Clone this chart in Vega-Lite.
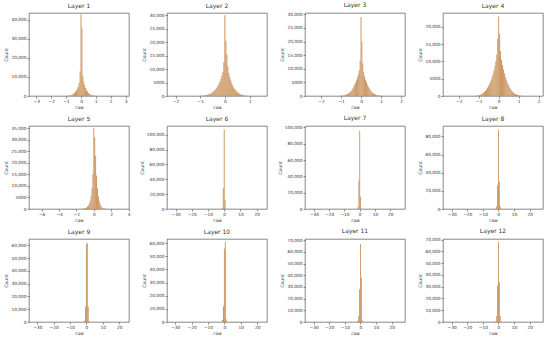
{
"$schema": "https://vega.github.io/schema/vega-lite/v6.json",
"autosize": "pad",
"padding": {"left": 3, "top": 2, "right": 0, "bottom": 0},
"background": "white",
"columns": 4,
"spacing": {"row": 30, "column": 38},
"bounds": "flush",
"data": {"values": [
{"l":1,"a":-1.085,"b":-1.023,"c":40},{"l":1,"a":-1.023,"b":-0.961,"c":60},{"l":1,"a":-0.961,"b":-0.899,"c":90},{"l":1,"a":-0.899,"b":-0.837,"c":140},{"l":1,"a":-0.837,"b":-0.775,"c":210},{"l":1,"a":-0.775,"b":-0.713,"c":300},{"l":1,"a":-0.713,"b":-0.651,"c":430},{"l":1,"a":-0.651,"b":-0.589,"c":620},{"l":1,"a":-0.589,"b":-0.527,"c":880},{"l":1,"a":-0.527,"b":-0.465,"c":1200},{"l":1,"a":-0.465,"b":-0.403,"c":1650},{"l":1,"a":-0.403,"b":-0.341,"c":2200},{"l":1,"a":-0.341,"b":-0.279,"c":2900},{"l":1,"a":-0.279,"b":-0.217,"c":3800},{"l":1,"a":-0.217,"b":-0.155,"c":5000},{"l":1,"a":-0.155,"b":-0.093,"c":7000},{"l":1,"a":-0.093,"b":-0.031,"c":13000},{"l":1,"a":-0.031,"b":0.031,"c":43000},{"l":1,"a":0.031,"b":0.093,"c":36000},{"l":1,"a":0.093,"b":0.155,"c":10500},{"l":1,"a":0.155,"b":0.217,"c":7500},{"l":1,"a":0.217,"b":0.279,"c":5600},{"l":1,"a":0.279,"b":0.341,"c":4200},{"l":1,"a":0.341,"b":0.403,"c":3100},{"l":1,"a":0.403,"b":0.465,"c":2300},{"l":1,"a":0.465,"b":0.527,"c":1650},{"l":1,"a":0.527,"b":0.589,"c":1200},{"l":1,"a":0.589,"b":0.651,"c":850},{"l":1,"a":0.651,"b":0.713,"c":600},{"l":1,"a":0.713,"b":0.775,"c":420},{"l":1,"a":0.775,"b":0.837,"c":290},{"l":1,"a":0.837,"b":0.899,"c":190},{"l":1,"a":0.899,"b":0.961,"c":120},{"l":1,"a":0.961,"b":1.023,"c":75},{"l":1,"a":1.023,"b":1.085,"c":45},

{"l":2,"a":-1.14,"b":-1.1,"c":30},{"l":2,"a":-1.1,"b":-1.06,"c":45},{"l":2,"a":-1.06,"b":-1.02,"c":60},{"l":2,"a":-1.02,"b":-0.98,"c":80},{"l":2,"a":-0.98,"b":-0.94,"c":110},{"l":2,"a":-0.94,"b":-0.9,"c":140},{"l":2,"a":-0.9,"b":-0.86,"c":180},{"l":2,"a":-0.86,"b":-0.82,"c":230},{"l":2,"a":-0.82,"b":-0.78,"c":290},{"l":2,"a":-0.78,"b":-0.74,"c":370},{"l":2,"a":-0.74,"b":-0.7,"c":460},{"l":2,"a":-0.7,"b":-0.66,"c":570},{"l":2,"a":-0.66,"b":-0.62,"c":700},{"l":2,"a":-0.62,"b":-0.58,"c":860},{"l":2,"a":-0.58,"b":-0.54,"c":1050},{"l":2,"a":-0.54,"b":-0.5,"c":1280},{"l":2,"a":-0.5,"b":-0.46,"c":1550},{"l":2,"a":-0.46,"b":-0.42,"c":1870},{"l":2,"a":-0.42,"b":-0.38,"c":2250},{"l":2,"a":-0.38,"b":-0.34,"c":2700},{"l":2,"a":-0.34,"b":-0.3,"c":3200},{"l":2,"a":-0.3,"b":-0.26,"c":3800},{"l":2,"a":-0.26,"b":-0.22,"c":4500},{"l":2,"a":-0.22,"b":-0.18,"c":5300},{"l":2,"a":-0.18,"b":-0.14,"c":6300},{"l":2,"a":-0.14,"b":-0.1,"c":7500},{"l":2,"a":-0.1,"b":-0.06,"c":9000},{"l":2,"a":-0.06,"b":-0.02,"c":12500},{"l":2,"a":-0.02,"b":0.02,"c":30000},{"l":2,"a":0.02,"b":0.06,"c":20500},{"l":2,"a":0.06,"b":0.1,"c":15500},{"l":2,"a":0.1,"b":0.14,"c":11000},{"l":2,"a":0.14,"b":0.18,"c":8500},{"l":2,"a":0.18,"b":0.22,"c":7000},{"l":2,"a":0.22,"b":0.26,"c":5800},{"l":2,"a":0.26,"b":0.3,"c":4800},{"l":2,"a":0.3,"b":0.34,"c":3900},{"l":2,"a":0.34,"b":0.38,"c":3200},{"l":2,"a":0.38,"b":0.42,"c":2600},{"l":2,"a":0.42,"b":0.46,"c":2100},{"l":2,"a":0.46,"b":0.5,"c":1700},{"l":2,"a":0.5,"b":0.54,"c":1350},{"l":2,"a":0.54,"b":0.58,"c":1080},{"l":2,"a":0.58,"b":0.62,"c":850},{"l":2,"a":0.62,"b":0.66,"c":660},{"l":2,"a":0.66,"b":0.7,"c":510},{"l":2,"a":0.7,"b":0.74,"c":390},{"l":2,"a":0.74,"b":0.78,"c":300},{"l":2,"a":0.78,"b":0.82,"c":230},{"l":2,"a":0.82,"b":0.86,"c":170},{"l":2,"a":0.86,"b":0.9,"c":125},{"l":2,"a":0.9,"b":0.94,"c":90},{"l":2,"a":0.94,"b":0.98,"c":65},{"l":2,"a":0.98,"b":1.02,"c":45},{"l":2,"a":1.02,"b":1.06,"c":30},

{"l":3,"a":-1.0575,"b":-1.0125,"c":60},{"l":3,"a":-1.0125,"b":-0.9675,"c":90},{"l":3,"a":-0.9675,"b":-0.9225,"c":130},{"l":3,"a":-0.9225,"b":-0.8775,"c":180},{"l":3,"a":-0.8775,"b":-0.8325,"c":250},{"l":3,"a":-0.8325,"b":-0.7875,"c":330},{"l":3,"a":-0.7875,"b":-0.7425,"c":440},{"l":3,"a":-0.7425,"b":-0.6975,"c":580},{"l":3,"a":-0.6975,"b":-0.6525,"c":750},{"l":3,"a":-0.6525,"b":-0.6075,"c":950},{"l":3,"a":-0.6075,"b":-0.5625,"c":1200},{"l":3,"a":-0.5625,"b":-0.5175,"c":1500},{"l":3,"a":-0.5175,"b":-0.4725,"c":1850},{"l":3,"a":-0.4725,"b":-0.4275,"c":2300},{"l":3,"a":-0.4275,"b":-0.3825,"c":2800},{"l":3,"a":-0.3825,"b":-0.3375,"c":3400},{"l":3,"a":-0.3375,"b":-0.2925,"c":4100},{"l":3,"a":-0.2925,"b":-0.2475,"c":4900},{"l":3,"a":-0.2475,"b":-0.2025,"c":5800},{"l":3,"a":-0.2025,"b":-0.1575,"c":6800},{"l":3,"a":-0.1575,"b":-0.1125,"c":8000},{"l":3,"a":-0.1125,"b":-0.0675,"c":9500},{"l":3,"a":-0.0675,"b":-0.0225,"c":13000},{"l":3,"a":-0.0225,"b":0.0225,"c":29000},{"l":3,"a":0.0225,"b":0.0675,"c":20000},{"l":3,"a":0.0675,"b":0.1125,"c":12000},{"l":3,"a":0.1125,"b":0.1575,"c":8800},{"l":3,"a":0.1575,"b":0.2025,"c":7300},{"l":3,"a":0.2025,"b":0.2475,"c":6100},{"l":3,"a":0.2475,"b":0.2925,"c":5100},{"l":3,"a":0.2925,"b":0.3375,"c":4200},{"l":3,"a":0.3375,"b":0.3825,"c":3500},{"l":3,"a":0.3825,"b":0.4275,"c":2900},{"l":3,"a":0.4275,"b":0.4725,"c":2350},{"l":3,"a":0.4725,"b":0.5175,"c":1900},{"l":3,"a":0.5175,"b":0.5625,"c":1500},{"l":3,"a":0.5625,"b":0.6075,"c":1200},{"l":3,"a":0.6075,"b":0.6525,"c":950},{"l":3,"a":0.6525,"b":0.6975,"c":740},{"l":3,"a":0.6975,"b":0.7425,"c":570},{"l":3,"a":0.7425,"b":0.7875,"c":430},{"l":3,"a":0.7875,"b":0.8325,"c":320},{"l":3,"a":0.8325,"b":0.8775,"c":240},{"l":3,"a":0.8775,"b":0.9225,"c":170},{"l":3,"a":0.9225,"b":0.9675,"c":120},{"l":3,"a":0.9675,"b":1.0125,"c":80},{"l":3,"a":1.0125,"b":1.0575,"c":50},

{"l":4,"a":-1.1515,"b":-1.1045,"c":80},{"l":4,"a":-1.1045,"b":-1.0575,"c":120},{"l":4,"a":-1.0575,"b":-1.0105,"c":180},{"l":4,"a":-1.0105,"b":-0.9635,"c":250},{"l":4,"a":-0.9635,"b":-0.9165,"c":340},{"l":4,"a":-0.9165,"b":-0.8695,"c":460},{"l":4,"a":-0.8695,"b":-0.8225,"c":600},{"l":4,"a":-0.8225,"b":-0.7755,"c":780},{"l":4,"a":-0.7755,"b":-0.7285,"c":1000},{"l":4,"a":-0.7285,"b":-0.6815,"c":1250},{"l":4,"a":-0.6815,"b":-0.6345,"c":1550},{"l":4,"a":-0.6345,"b":-0.5875,"c":1900},{"l":4,"a":-0.5875,"b":-0.5405,"c":2350},{"l":4,"a":-0.5405,"b":-0.4935,"c":2850},{"l":4,"a":-0.4935,"b":-0.4465,"c":3400},{"l":4,"a":-0.4465,"b":-0.3995,"c":4000},{"l":4,"a":-0.3995,"b":-0.3525,"c":4700},{"l":4,"a":-0.3525,"b":-0.3055,"c":5500},{"l":4,"a":-0.3055,"b":-0.2585,"c":6400},{"l":4,"a":-0.2585,"b":-0.2115,"c":7400},{"l":4,"a":-0.2115,"b":-0.1645,"c":8600},{"l":4,"a":-0.1645,"b":-0.1175,"c":10000},{"l":4,"a":-0.1175,"b":-0.0705,"c":12000},{"l":4,"a":-0.0705,"b":-0.0235,"c":16500},{"l":4,"a":-0.0235,"b":0.0235,"c":23000},{"l":4,"a":0.0235,"b":0.0705,"c":18000},{"l":4,"a":0.0705,"b":0.1175,"c":13000},{"l":4,"a":0.1175,"b":0.1645,"c":10500},{"l":4,"a":0.1645,"b":0.2115,"c":9000},{"l":4,"a":0.2115,"b":0.2585,"c":7700},{"l":4,"a":0.2585,"b":0.3055,"c":6600},{"l":4,"a":0.3055,"b":0.3525,"c":5600},{"l":4,"a":0.3525,"b":0.3995,"c":4800},{"l":4,"a":0.3995,"b":0.4465,"c":4000},{"l":4,"a":0.4465,"b":0.4935,"c":3400},{"l":4,"a":0.4935,"b":0.5405,"c":2800},{"l":4,"a":0.5405,"b":0.5875,"c":2300},{"l":4,"a":0.5875,"b":0.6345,"c":1850},{"l":4,"a":0.6345,"b":0.6815,"c":1500},{"l":4,"a":0.6815,"b":0.7285,"c":1200},{"l":4,"a":0.7285,"b":0.7755,"c":950},{"l":4,"a":0.7755,"b":0.8225,"c":740},{"l":4,"a":0.8225,"b":0.8695,"c":570},{"l":4,"a":0.8695,"b":0.9165,"c":430},{"l":4,"a":0.9165,"b":0.9635,"c":320},{"l":4,"a":0.9635,"b":1.0105,"c":230},{"l":4,"a":1.0105,"b":1.0575,"c":160},{"l":4,"a":1.0575,"b":1.1045,"c":110},{"l":4,"a":1.1045,"b":1.1515,"c":70},

{"l":5,"a":-1.5225,"b":-1.4175,"c":30},{"l":5,"a":-1.4175,"b":-1.3125,"c":60},{"l":5,"a":-1.3125,"b":-1.2075,"c":100},{"l":5,"a":-1.2075,"b":-1.1025,"c":170},{"l":5,"a":-1.1025,"b":-0.9975,"c":280},{"l":5,"a":-0.9975,"b":-0.8925,"c":450},{"l":5,"a":-0.8925,"b":-0.7875,"c":700},{"l":5,"a":-0.7875,"b":-0.6825,"c":1050},{"l":5,"a":-0.6825,"b":-0.5775,"c":1600},{"l":5,"a":-0.5775,"b":-0.4725,"c":2400},{"l":5,"a":-0.4725,"b":-0.3675,"c":3600},{"l":5,"a":-0.3675,"b":-0.2625,"c":5500},{"l":5,"a":-0.2625,"b":-0.1575,"c":9000},{"l":5,"a":-0.1575,"b":-0.0525,"c":15000},{"l":5,"a":-0.0525,"b":0.0525,"c":35000},{"l":5,"a":0.0525,"b":0.1575,"c":31000},{"l":5,"a":0.1575,"b":0.2625,"c":23000},{"l":5,"a":0.2625,"b":0.3675,"c":14500},{"l":5,"a":0.3675,"b":0.4725,"c":9000},{"l":5,"a":0.4725,"b":0.5775,"c":5500},{"l":5,"a":0.5775,"b":0.6825,"c":3300},{"l":5,"a":0.6825,"b":0.7875,"c":2000},{"l":5,"a":0.7875,"b":0.8925,"c":1200},{"l":5,"a":0.8925,"b":0.9975,"c":700},{"l":5,"a":0.9975,"b":1.1025,"c":400},{"l":5,"a":1.1025,"b":1.2075,"c":220},{"l":5,"a":1.2075,"b":1.3125,"c":120},{"l":5,"a":1.3125,"b":1.4175,"c":60},{"l":5,"a":1.4175,"b":1.5225,"c":30},

{"l":6,"a":-1.4,"b":-0.84,"c":1500},{"l":6,"a":-0.84,"b":-0.28,"c":28000},{"l":6,"a":-0.28,"b":0.28,"c":107000},{"l":6,"a":0.28,"b":0.84,"c":12000},{"l":6,"a":0.84,"b":1.4,"c":800},
{"l":7,"a":-1.96,"b":-1.4,"c":300},{"l":7,"a":-1.4,"b":-0.84,"c":2500},{"l":7,"a":-0.84,"b":-0.28,"c":35000},{"l":7,"a":-0.28,"b":0.28,"c":96000},{"l":7,"a":0.28,"b":0.84,"c":15000},{"l":7,"a":0.84,"b":1.4,"c":600},
{"l":8,"a":-1.96,"b":-1.4,"c":500},{"l":8,"a":-1.4,"b":-0.84,"c":3000},{"l":8,"a":-0.84,"b":-0.28,"c":26000},{"l":8,"a":-0.28,"b":0.28,"c":87000},{"l":8,"a":0.28,"b":0.84,"c":30000},{"l":8,"a":0.84,"b":1.4,"c":3000},{"l":8,"a":1.4,"b":1.96,"c":200},
{"l":9,"a":-1.4,"b":-0.84,"c":800},{"l":9,"a":-0.84,"b":-0.28,"c":12000},{"l":9,"a":-0.28,"b":0.28,"c":61000},{"l":9,"a":0.28,"b":0.84,"c":62000},{"l":9,"a":0.84,"b":1.4,"c":12000},{"l":9,"a":1.4,"b":1.96,"c":600},
{"l":10,"a":-1.4,"b":-0.84,"c":1500},{"l":10,"a":-0.84,"b":-0.28,"c":12000},{"l":10,"a":-0.28,"b":0.28,"c":56000},{"l":10,"a":0.28,"b":0.84,"c":61000},{"l":10,"a":0.84,"b":1.4,"c":2000},
{"l":11,"a":-1.96,"b":-1.4,"c":1000},{"l":11,"a":-1.4,"b":-0.84,"c":5000},{"l":11,"a":-0.84,"b":-0.28,"c":28000},{"l":11,"a":-0.28,"b":0.28,"c":67000},{"l":11,"a":0.28,"b":0.84,"c":38000},{"l":11,"a":0.84,"b":1.4,"c":1500},
{"l":12,"a":-1.96,"b":-1.4,"c":800},{"l":12,"a":-1.4,"b":-0.84,"c":5000},{"l":12,"a":-0.84,"b":-0.28,"c":31000},{"l":12,"a":-0.28,"b":0.28,"c":68000},{"l":12,"a":0.28,"b":0.84,"c":34000},{"l":12,"a":0.84,"b":1.4,"c":5000},{"l":12,"a":1.4,"b":1.96,"c":300}
]},
"concat": [
{"title":{"text":"Layer 1","fontWeight":"normal"},"width":100,"height":83,"transform":[{"filter":"datum.l==1"}],"mark":{"type":"bar","color":"#c8915a"},"encoding":{"x":{"field":"a","type":"quantitative","scale":{"domain":[-3.5,3.23],"nice":false,"zero":false},"axis":{"values":[-3,-2,-1,0,1,2,3],"format":"d","title":"raw"}},"x2":{"field":"b"},"y":{"field":"c","type":"quantitative","scale":{"domain":[0,43600],"nice":false},"axis":{"values":[0,10000,20000,30000,40000],"title":"Count"}},"y2":{"datum":0}}},
{"title":{"text":"Layer 2","fontWeight":"normal"},"width":100,"height":83,"transform":[{"filter":"datum.l==2"}],"mark":{"type":"bar","color":"#c8915a"},"encoding":{"x":{"field":"a","type":"quantitative","scale":{"domain":[-2.35,1.71],"nice":false,"zero":false},"axis":{"values":[-2,-1,0,1],"format":"d","title":"raw"}},"x2":{"field":"b"},"y":{"field":"c","type":"quantitative","scale":{"domain":[0,30800],"nice":false},"axis":{"values":[0,5000,10000,15000,20000,25000,30000],"title":"Count"}},"y2":{"datum":0}}},
{"title":{"text":"Layer 3","fontWeight":"normal"},"width":100,"height":83,"transform":[{"filter":"datum.l==3"}],"mark":{"type":"bar","color":"#c8915a"},"encoding":{"x":{"field":"a","type":"quantitative","scale":{"domain":[-2.8,2.2],"nice":false,"zero":false},"axis":{"values":[-2,-1,0,1,2],"format":"d","title":"raw"}},"x2":{"field":"b"},"y":{"field":"c","type":"quantitative","scale":{"domain":[0,30500],"nice":false},"axis":{"values":[0,5000,10000,15000,20000,25000,30000],"title":"Count"}},"y2":{"datum":0}}},
{"title":{"text":"Layer 4","fontWeight":"normal"},"width":100,"height":83,"transform":[{"filter":"datum.l==4"}],"mark":{"type":"bar","color":"#c8915a"},"encoding":{"x":{"field":"a","type":"quantitative","scale":{"domain":[-2.79,2.22],"nice":false,"zero":false},"axis":{"values":[-2,-1,0,1,2],"format":"d","title":"raw"}},"x2":{"field":"b"},"y":{"field":"c","type":"quantitative","scale":{"domain":[0,24000],"nice":false},"axis":{"values":[0,5000,10000,15000,20000],"title":"Count"}},"y2":{"datum":0}}},
{"title":{"text":"Layer 5","fontWeight":"normal"},"width":100,"height":83,"transform":[{"filter":"datum.l==5"}],"mark":{"type":"bar","color":"#c8915a"},"encoding":{"x":{"field":"a","type":"quantitative","scale":{"domain":[-7.46,4.05],"nice":false,"zero":false},"axis":{"values":[-6,-4,-2,0,2,4],"format":"d","title":"raw"}},"x2":{"field":"b"},"y":{"field":"c","type":"quantitative","scale":{"domain":[0,35900],"nice":false},"axis":{"values":[0,5000,10000,15000,20000,25000,30000,35000],"title":"Count"}},"y2":{"datum":0}}},
{"title":{"text":"Layer 6","fontWeight":"normal"},"width":100,"height":83,"transform":[{"filter":"datum.l==6"}],"mark":{"type":"bar","color":"#c8915a"},"encoding":{"x":{"field":"a","type":"quantitative","scale":{"domain":[-35.3,26.4],"nice":false,"zero":false},"axis":{"values":[-30,-20,-10,0,10,20],"format":"d","title":"raw"}},"x2":{"field":"b"},"y":{"field":"c","type":"quantitative","scale":{"domain":[0,111800],"nice":false},"axis":{"values":[0,20000,40000,60000,80000,100000],"title":"Count"}},"y2":{"datum":0}}},
{"title":{"text":"Layer 7","fontWeight":"normal"},"width":100,"height":83,"transform":[{"filter":"datum.l==7"}],"mark":{"type":"bar","color":"#c8915a"},"encoding":{"x":{"field":"a","type":"quantitative","scale":{"domain":[-35.9,29.7],"nice":false,"zero":false},"axis":{"values":[-30,-20,-10,0,10,20],"format":"d","title":"raw"}},"x2":{"field":"b"},"y":{"field":"c","type":"quantitative","scale":{"domain":[0,101700],"nice":false},"axis":{"values":[0,20000,40000,60000,80000,100000],"title":"Count"}},"y2":{"datum":0}}},
{"title":{"text":"Layer 8","fontWeight":"normal"},"width":100,"height":83,"transform":[{"filter":"datum.l==8"}],"mark":{"type":"bar","color":"#c8915a"},"encoding":{"x":{"field":"a","type":"quantitative","scale":{"domain":[-35.5,28.5],"nice":false,"zero":false},"axis":{"values":[-30,-20,-10,0,10,20],"format":"d","title":"raw"}},"x2":{"field":"b"},"y":{"field":"c","type":"quantitative","scale":{"domain":[0,91400],"nice":false},"axis":{"values":[0,20000,40000,60000,80000],"title":"Count"}},"y2":{"datum":0}}},
{"title":{"text":"Layer 9","fontWeight":"normal"},"width":100,"height":83,"transform":[{"filter":"datum.l==9"}],"mark":{"type":"bar","color":"#c8915a"},"encoding":{"x":{"field":"a","type":"quantitative","scale":{"domain":[-35,26],"nice":false,"zero":false},"axis":{"values":[-30,-20,-10,0,10,20],"format":"d","title":"raw"}},"x2":{"field":"b"},"y":{"field":"c","type":"quantitative","scale":{"domain":[0,65000],"nice":false},"axis":{"values":[0,10000,20000,30000,40000,50000,60000],"title":"Count"}},"y2":{"datum":0}}},
{"title":{"text":"Layer 10","fontWeight":"normal"},"width":100,"height":83,"transform":[{"filter":"datum.l==10"}],"mark":{"type":"bar","color":"#c8915a"},"encoding":{"x":{"field":"a","type":"quantitative","scale":{"domain":[-35,26],"nice":false,"zero":false},"axis":{"values":[-30,-20,-10,0,10,20],"format":"d","title":"raw"}},"x2":{"field":"b"},"y":{"field":"c","type":"quantitative","scale":{"domain":[0,63200],"nice":false},"axis":{"values":[0,10000,20000,30000,40000,50000,60000],"title":"Count"}},"y2":{"datum":0}}},
{"title":{"text":"Layer 11","fontWeight":"normal"},"width":100,"height":83,"transform":[{"filter":"datum.l==11"}],"mark":{"type":"bar","color":"#c8915a"},"encoding":{"x":{"field":"a","type":"quantitative","scale":{"domain":[-35.5,28.5],"nice":false,"zero":false},"axis":{"values":[-30,-20,-10,0,10,20],"format":"d","title":"raw"}},"x2":{"field":"b"},"y":{"field":"c","type":"quantitative","scale":{"domain":[0,71100],"nice":false},"axis":{"values":[0,10000,20000,30000,40000,50000,60000,70000],"title":"Count"}},"y2":{"datum":0}}},
{"title":{"text":"Layer 12","fontWeight":"normal"},"width":100,"height":83,"transform":[{"filter":"datum.l==12"}],"mark":{"type":"bar","color":"#c8915a"},"encoding":{"x":{"field":"a","type":"quantitative","scale":{"domain":[-35.5,28.5],"nice":false,"zero":false},"axis":{"values":[-30,-20,-10,0,10,20],"format":"d","title":"raw"}},"x2":{"field":"b"},"y":{"field":"c","type":"quantitative","scale":{"domain":[0,70600],"nice":false},"axis":{"values":[0,10000,20000,30000,40000,50000,60000,70000],"title":"Count"}},"y2":{"datum":0}}}
],
"config": {
"font": "DejaVu Sans",
"view": {"stroke": "#555", "strokeWidth": 0.7},
"bar": {"binSpacing": 0, "strokeWidth": 0},
"title": {"fontSize": 6, "fontWeight": 400, "offset": 4, "color": "#333", "font": "DejaVu Sans"},
"style": {"group-title": {"fontWeight": 400}},
"axis": {"grid": false, "domain": false, "tickSize": 2, "tickWidth": 0.6, "tickColor": "#444", "labelFontSize": 4.3, "labelColor": "#333", "labelPadding": 1, "titleFontSize": 4.6, "titleFontWeight": "normal", "titleColor": "#333", "titlePadding": 2, "labelFont": "DejaVu Sans", "titleFont": "DejaVu Sans"},
"axisY": {"labelExpr": "datum.value >= 10000 ? format(datum.value, ',') : format(datum.value, 'd')"},
"axisX": {"labelFlush": false, "titlePadding": 1.5}
}
}
